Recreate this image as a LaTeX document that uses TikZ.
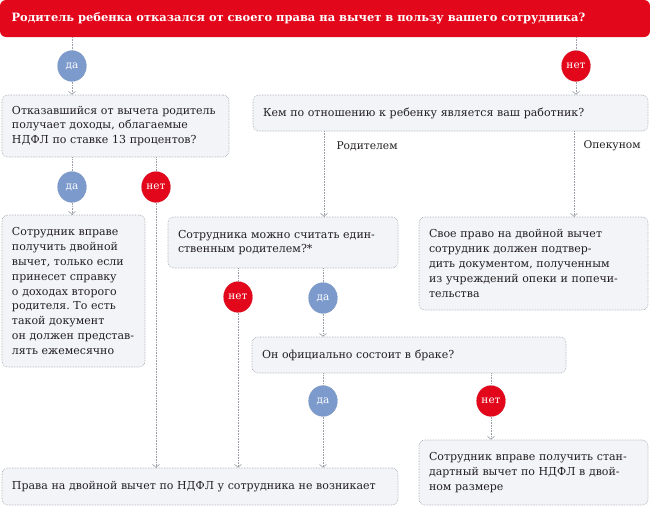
\documentclass[tikz,border=0pt]{standalone}
\usepackage{fontspec}
\setmainfont{DejaVu Serif}
\usetikzlibrary{arrows.meta, positioning, shapes.geometric}
\definecolor{ndred}{HTML}{E2071B}
\definecolor{ndblue}{HTML}{7C9ACB}
\definecolor{ndfill}{HTML}{F2F4F8}
\definecolor{ndline}{HTML}{9A9EA6}
\definecolor{ndtext}{HTML}{231F20}
\frenchspacing

\begin{document}
\begin{tikzpicture}[
        x=1pt, y=-1pt,
        font=\fontsize{11}{14.8}\selectfont,
        every node/.style={anchor=center, text=ndtext},
        qhead/.style={rectangle, fill=ndred, rounded corners=6pt,
                      minimum width=650pt, minimum height=37pt, inner sep=0pt},
        qbox/.style={rectangle, draw=ndline, densely dotted, line width=0.6pt,
                     fill=ndfill, rounded corners=6pt, align=left,
                     inner xsep=10pt, inner ysep=0pt},
        yes/.style={ellipse, fill=ndblue, draw=ndblue!85!black, densely dotted,
                    minimum width=29pt, minimum height=31pt, inner sep=0pt,
                    text=white, font=\fontsize{10.5}{12}\selectfont},
        no/.style={yes, fill=ndred, draw=ndred!85!black},
        flow/.style={draw=ndline, densely dotted, line width=0.6pt},
        tip/.style={flow, -{Straight Barb[length=3pt, width=7pt]}},
        branch/.style={anchor=west, font=\fontsize{10.7}{12}\selectfont}
    ]
        \useasboundingbox (0,0) rectangle (650,506);

        % question at the top
        \node[qhead] (q0) at (325,18.5) {};
        \node[anchor=west, text=white, font=\fontsize{11.45}{13}\bfseries] at (8,18)
            {Родитель ребенка отказался от своего права на вычет в пользу вашего сотрудника?};

        % boxes
        \node[qbox, text width=207pt, minimum height=62pt] (b1) at (115.5,126)
            {Отказавшийся от вычета родитель\\получает доходы, облагаемые\\НДФЛ по ставке 13 процентов?};
        \node[qbox, text width=375pt, minimum height=36pt] (b2) at (450.5,113)
            {Кем по отношению к ребенку является ваш работник?};
        \node[qbox, text width=123pt, minimum height=152pt] (b3) at (73.5,291)
            {Сотрудник вправе\\получить двойной\\вычет, только если\\принесет справку\\о доходах второго\\родителя. То есть\\такой документ\\он должен представ-\\лять ежемесячно};
        \node[qbox, text width=210pt, minimum height=51pt] (b4) at (283,242.5)
            {Сотрудника можно считать един-\\ственным родителем?*};
        \node[qbox, text width=209pt, minimum height=93pt] (b5) at (533.5,263.5)
            {Свое право на двойной вычет\\сотрудник должен подтвер-\\дить документом, полученным\\из учреждений опеки и попечи-\\тельства};
        \node[qbox, text width=294pt, minimum height=36pt] (b6) at (409,355)
            {Он официально состоит в браке?};
        \node[qbox, text width=376pt, minimum height=37pt] (b7) at (200,486.5)
            {Права на двойной вычет по НДФЛ у сотрудника не возникает};
        \node[qbox, text width=209pt, minimum height=65pt] (b8) at (533.5,472.5)
            {Сотрудник вправе получить стан-\\дартный вычет по НДФЛ в двой-\\ном размере};

        % answers
        \node[yes] (da1) at (72,66)  {да};
        \node[no]  (net1) at (576,66) {нет};
        \node[yes] (da2) at (72,187) {да};
        \node[no]  (net2) at (156,187) {нет};
        \node[no]  (net3) at (238,297) {нет};
        \node[yes] (da3) at (323,298) {да};
        \node[yes] (da4) at (323,401) {да};
        \node[no]  (net4) at (491,401) {нет};

        % connectors
        \draw[flow] (q0.south -| da1) -- (da1);
        \draw[tip]  (da1) -- (b1.north -| da1);
        \draw[flow] (q0.south -| net1) -- (net1);
        \draw[tip]  (net1) -- (b2.north -| net1);

        \draw[flow] (b1.south -| da2) -- (da2);
        \draw[tip]  (da2) -- (b3.north -| da2);
        \draw[flow] (b1.south -| net2) -- (net2);
        \draw[tip]  (net2) -- (b7.north -| net2);

        \coordinate (parent) at (324,131);
        \coordinate (guard) at (574,131);
        \draw[tip] (parent) -- (b4.north -| parent);
        \draw[tip] (guard) -- (b5.north -| guard);
        \node[branch] (lparent) at (333,146) {Родителем};
        \node[branch] (lguard) at (580,146) {Опекуном};

        \draw[flow] (b4.south -| net3) -- (net3);
        \draw[tip]  (net3) -- (b7.north -| net3);
        \draw[flow] (b4.south -| da3) -- (da3);
        \draw[tip]  (da3) -- (b6.north -| da3);

        \draw[flow] (b6.south -| da4) -- (da4);
        \draw[tip]  (da4) -- (b7.north -| da4);
        \draw[flow] (b6.south -| net4) -- (net4);
        \draw[tip]  (net4) -- (b8.north -| net4);
    \end{tikzpicture}
\end{document}
